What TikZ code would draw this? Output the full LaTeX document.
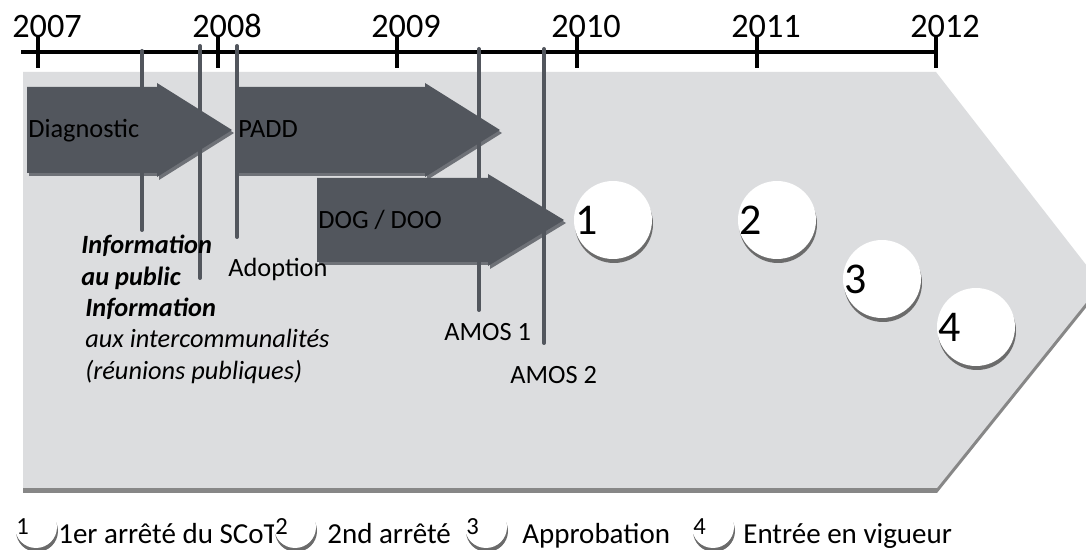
\documentclass[tikz,border=0pt]{standalone}
\usepackage{fontspec}
\setmainfont{Carlito}
\definecolor{bggray}{HTML}{DCDDDF}
\definecolor{bgshade}{HTML}{878787}
\definecolor{phasegray}{HTML}{52565D}
\definecolor{phaseshade}{HTML}{6E7177}
\definecolor{discshade}{HTML}{6B6B6B}
\def\etape[#1](#2,#3,#4,#5,#6){\fill[#1] (#2,#3) -- (#4,#3) -- (#4,#3-4) -- (#5,{(#3+#6)/2}) -- (#4,#6+4) -- (#4,#6) -- (#2,#6) -- cycle;}
\def\jalon[#1](#2,#3)#4#5#6{\fill[discshade] (#2+1,#3+4) circle (#4); \fill[white] (#2,#3) circle (#4); \node[#1] (#5) at (#2-#4+1,#3) {#6};}

\begin{document}
\begin{tikzpicture}[x=0.02cm, y=-0.02cm,
	timeaxis/.style={line width=4*0.02cm, black},
	yeartick/.style={line width=4*0.02cm, black},
	jalonline/.style={line width=4*0.02cm, phasegray, line cap=round},
	yearlbl/.style={font=\fontsize{19.5}{23}\selectfont, inner sep=0, anchor=base},
	lbl/.style={font=\fontsize{15}{18}\selectfont, inner sep=0, anchor=base west},
	infob/.style={lbl, font={\fontsize{15}{18}\selectfont\bfseries\itshape}},
	infoi/.style={lbl, font={\fontsize{15}{18}\selectfont\itshape}},
	legtext/.style={font=\fontsize{16.5}{20}\selectfont, inner sep=0, anchor=base west},
	bignum/.style={font=\fontsize{25}{30}\selectfont, inner sep=0, anchor=west},
	smallnum/.style={font=\fontsize{14}{17}\selectfont, inner sep=0, anchor=west}]
		%%%%% START %%%%%
		
		\fill[white] (0,0) rectangle (1086,550);
		\useasboundingbox (0,0) rectangle (1086,550);
		
		\fill[bgshade] (23,77) -- (936,77) -- (1101,289) -- (937,493) -- (23,493) -- cycle;
		\fill[bggray] (23,72) -- (936,72) -- (1101,284) -- (937,488) -- (23,488) -- cycle;
		
		\draw[timeaxis] (21,52) -- (936,52);
		\foreach \x/\an in {38/2007, 218/2008, 397/2009, 577/2010, 757/2011, 936/2012} {
			\node[yearlbl] (y\an) at (\x+9,38) {\an};
			\draw[yeartick] (\x,35) -- (\x,68);
		}
		
		\etape[phaseshade, shift={(2,3)}](27,87,157,232,173)
		\etape[phasegray](27,87,157,232,173)
		\etape[phaseshade, shift={(2,3)}](237,87,425,500,173)
		\etape[phasegray](237,87,425,500,173)
		\etape[phaseshade, shift={(2,3)}](317,178,488,564,262)
		\etape[phasegray](317,178,488,564,262)
		
		\foreach \x/\a/\b in {142/51/230, 200/46/278, 237/46/237, 479/49/310, 544/49/343}
			\draw[jalonline] (\x,\a) -- (\x,\b);
		
		\node[lbl] (diag) at (28,138) {Diagnostic};
		\node[lbl] (padd) at (238,138) {PADD};
		\node[lbl] (dog) at (318,229) {DOG / DOO};
		
		\node[infob] (infopub) at (81,254) {Information};
		\node[infob] (aupub) at (81,286) {au public};
		\node[infob] (infocom) at (85,317) {Information};
		\node[infoi] (auxcom) at (85,348) {aux intercommunalités};
		\node[infoi] (reunions) at (85,380) {(réunions publiques)};
		
		\node[lbl] (adopt) at (228,277) {Adoption};
		\node[lbl] (amos1) at (444,341) {AMOS 1};
		\node[lbl] (amos2) at (510,384) {AMOS 2};
		
		\jalon[bignum](613,220){39}{j1}{1}
		\jalon[bignum](777,220){39}{j2}{2}
		\jalon[bignum](882,279){39}{j3}{3}
		\jalon[bignum](976,327){39}{j4}{4}
		
		\node[legtext] (leg1) at (58,544) {1er arrêté du SCoT};
		\node[legtext] (leg2) at (327,544) {2nd arrêté};
		\node[legtext] (leg3) at (522,544) {Approbation};
		\node[legtext] (leg4) at (743,544) {Entrée en vigueur};
		
		\jalon[smallnum](36,527){21}{l1}{1}
		\jalon[smallnum](295,527){21}{l2}{2}
		\jalon[smallnum](486,527){21}{l3}{3}
		\jalon[smallnum](713,527){21}{l4}{4}
		
		%%%%% END %%%%%
\end{tikzpicture}
\end{document}
